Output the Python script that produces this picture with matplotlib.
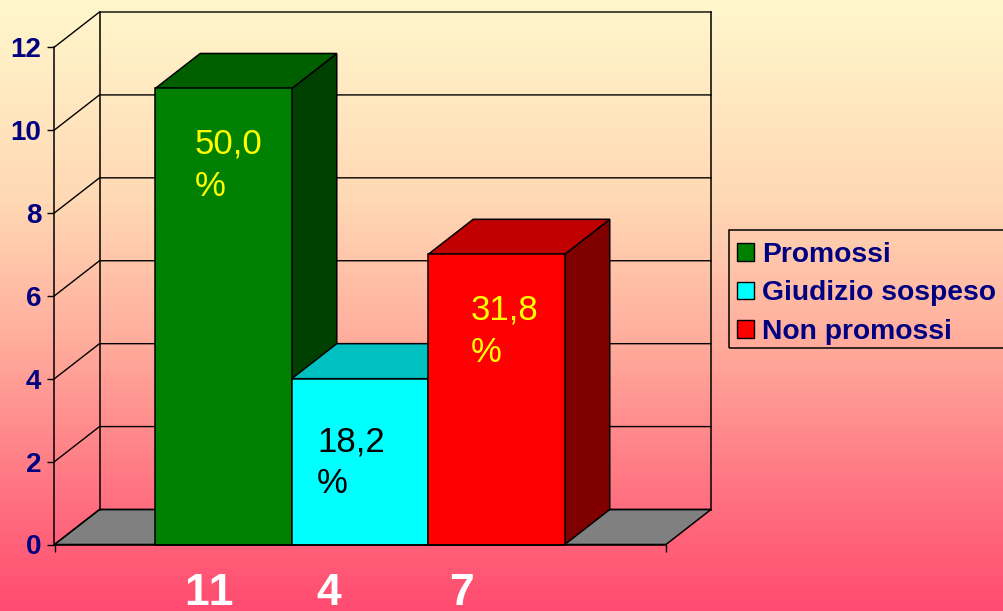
import numpy as np
import matplotlib
matplotlib.use("Agg")
import matplotlib.pyplot as plt
from matplotlib.colors import LinearSegmentedColormap
from matplotlib.patches import Polygon, Patch, Rectangle

categories = ["Promossi", "Giudizio sospeso", "Non promossi"]
values = [11, 4, 7]
percent_labels = ["50,0\n%", "18,2\n%", "31,8\n%"]
percent_colors = ["#FFFF00", "#000000", "#FFFF00"]
count_labels = ["11", "4", "7"]
y_ticks = [0, 2, 4, 6, 8, 10, 12]
front_colors = ["#008000", "#00FFFF", "#FF0000"]
top_colors = ["#006000", "#00C0C0", "#C00000"]
side_colors = ["#004000", "#008080", "#800000"]

W, H = 1004, 611
plt.rcParams["font.family"] = ["Liberation Sans", "DejaVu Sans"]
plt.rcParams["text.kerning_factor"] = 6
fig = plt.figure(figsize=(W / 100, H / 100), dpi=100)

# gradient background
bg = fig.add_axes([0, 0, 1, 1], zorder=-1)
cmap = LinearSegmentedColormap.from_list("bg", [
    (0.0, "#FFF7CC"), (0.33, "#FFD8B4"), (0.58, "#FFA89A"),
    (0.82, "#FF7080"), (1.0, "#FF4B70")])
bg.imshow(np.linspace(0, 1, 611)[:, None], cmap=cmap, aspect="auto", extent=(0, 1, 0, 1), origin="upper")
bg.axis("off")

def fx(x):
    return x / W
def fy(y):
    return 1 - y / H

# plot axes: pixel box of the front plane
L, R, T, B = 54.5, 666, 47, 544.5
ax = fig.add_axes([fx(L), fy(B), (R - L) / W, (B - T) / H])
ax.patch.set_alpha(0)
BAR_PX = 136.5
x_left = (L - 223.5) / BAR_PX
x_right = (R - 223.5) / BAR_PX
ax.set_xlim(x_left, x_right)
ax.set_ylim(0, 12)
dx = 45 / BAR_PX
dy = 35 / ((B - T) / 12)

def poly(pts, fc, z):
    ax.add_patch(Polygon(pts, closed=True, facecolor=fc, edgecolor="black", lw=1.1,
                         zorder=z, clip_on=False, joinstyle="miter"))

# floor
poly([(x_left, 0), (x_right, 0), (x_right + dx, dy), (x_left + dx, dy)], "#808080", 1)
# walls and gridlines
for v in y_ticks:
    ax.plot([x_left, x_left + dx, x_right + dx], [v, v + dy, v + dy], color="black",
            lw=1.0, clip_on=False, zorder=2, solid_joinstyle="miter")
ax.plot([x_left + dx] * 2, [dy, 12 + dy], color="black", lw=1.1, clip_on=False, zorder=2)
ax.plot([x_right + dx] * 2, [dy, 12 + dy], color="black", lw=1.1, clip_on=False, zorder=2)

# bars, painted back-to-front from left to right
for i, v in enumerate(values):
    z = 3 + i * 3
    poly([(i + .5, 0), (i + .5 + dx, dy), (i + .5 + dx, v + dy), (i + .5, v)], side_colors[i], z)
    poly([(i - .5, v), (i + .5, v), (i + .5 + dx, v + dy), (i - .5 + dx, v + dy)], top_colors[i], z + 1)
    ax.bar([i], [v], width=1, color=front_colors[i], edgecolor="black", lw=1.1, zorder=z + 2, clip_on=False)

for s in ["top", "right"]:
    ax.spines[s].set_visible(False)
for s in ["left", "bottom"]:
    ax.spines[s].set_linewidth(1.1)
    ax.spines[s].set_zorder(20)
ax.set_yticks(y_ticks)
ax.set_yticklabels([str(t) for t in y_ticks], fontsize=20, fontweight="bold", color="#000080")
ax.tick_params(axis="y", length=5, width=1, pad=4.6)
ax.set_xticks([x_left, x_right])
ax.set_xticklabels([])
ax.tick_params(axis="x", length=5, width=1)

# percent labels
for txt, col, (px, py) in zip(percent_labels, percent_colors, [(195, 128), (317, 425), (471, 294)]):
    ax.text(fx(px), fy(py), txt, color=col, fontsize=25, ha="left", va="top",
            linespacing=1.36, zorder=30, transform=fig.transFigure)

# count labels
for txt, px in zip(count_labels, [209, 329, 462]):
    fig.text(fx(px), fy(605), txt, color="white", fontsize=32, fontweight="bold",
             ha="center", va="baseline")

# legend
fig.add_artist(Rectangle((fx(729), fy(348)), (1010 - 729) / W, (348 - 230) / H,
                         transform=fig.transFigure, facecolor="none", edgecolor="black", lw=1.1))
handles = [Patch(facecolor=c, edgecolor="black", lw=1) for c in front_colors]
leg = fig.legend(handles, categories, loc="upper left", bbox_to_anchor=(fx(737), fy(242.3)),
                 bbox_transform=fig.transFigure, frameon=False,
                 fontsize=20.3, handlelength=0.6, handleheight=0.6,
                 handletextpad=0.295, labelspacing=0.43, borderpad=0, borderaxespad=0,
                 labelcolor="#000080")
for t in leg.get_texts():
    t.set_fontweight("bold")

fig.savefig("out.png", dpi=100)
